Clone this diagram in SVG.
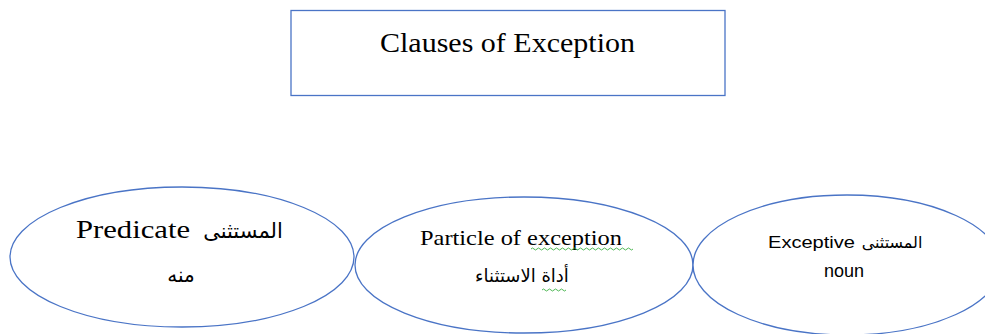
<svg xmlns="http://www.w3.org/2000/svg" width="985" height="334" viewBox="0 0 985 334">
<style>
.shape{fill:#fff;stroke:#4a74c6;stroke-width:1.3}
.serif{font-family:"Liberation Serif","Times New Roman",serif;fill:#000}
.sans{font-family:"Liberation Sans",Arial,sans-serif;fill:#000}
.ar{font-family:"DejaVu Sans","Noto Sans",sans-serif;fill:#000}
.wavy{fill:none;stroke:#3cb043;stroke-width:0.9}
</style>
<rect width="985" height="334" fill="#fff"/>
<g id="title">
<rect class="shape" x="291" y="10.5" width="434" height="85"/>
<text class="serif" x="380" y="52" font-size="27" textLength="255" lengthAdjust="spacingAndGlyphs">Clauses of Exception</text>
</g>
<g id="connectors"></g>
<g id="predicate">
<ellipse class="shape" cx="182" cy="257" rx="172" ry="70"/>
<text class="serif" x="76" y="238" font-size="25" textLength="114" lengthAdjust="spacingAndGlyphs">Predicate</text>
<text class="ar" x="243" y="238" font-size="21" text-anchor="middle" direction="rtl">المستثنى</text>
<text class="ar" x="181" y="282" font-size="20" text-anchor="middle" direction="rtl">منه</text>
</g>
<g id="particle">
<ellipse class="shape" cx="524" cy="265" rx="169" ry="68"/>
<text class="serif" x="420" y="245" font-size="22" textLength="202" lengthAdjust="spacingAndGlyphs">Particle of exception</text>
<path class="wavy" d="M531 249 q1.5 -2 3 0 t3 0 t3 0 t3 0 t3 0 t3 0 t3 0 t3 0 t3 0 t3 0 t3 0 t3 0 t3 0 t3 0 t3 0 t3 0 t3 0 t3 0 t3 0 t3 0 t3 0 t3 0 t3 0 t3 0 t3 0 t3 0 t3 0 t3 0 t3 0 t3 0 t3 0 t3 0 t3 0 t3 0"/>
<text class="ar" x="522" y="282" font-size="18" text-anchor="middle" direction="rtl">أداة الاستثناء</text>
<path class="wavy" d="M542 290 q1.5 -2 3 0 t3 0 t3 0 t3 0 t3 0 t3 0 t3 0 t3 0"/>
</g>
<g id="exceptive">
<ellipse class="shape" cx="847" cy="265" rx="154" ry="70"/>
<text class="sans" x="768" y="248" font-size="17" textLength="87" lengthAdjust="spacingAndGlyphs">Exceptive</text>
<text class="ar" x="892" y="248" font-size="16" text-anchor="middle" direction="rtl">المستثنى</text>
<text class="sans" x="844" y="277" font-size="18" text-anchor="middle">noun</text>
</g>
</svg>
